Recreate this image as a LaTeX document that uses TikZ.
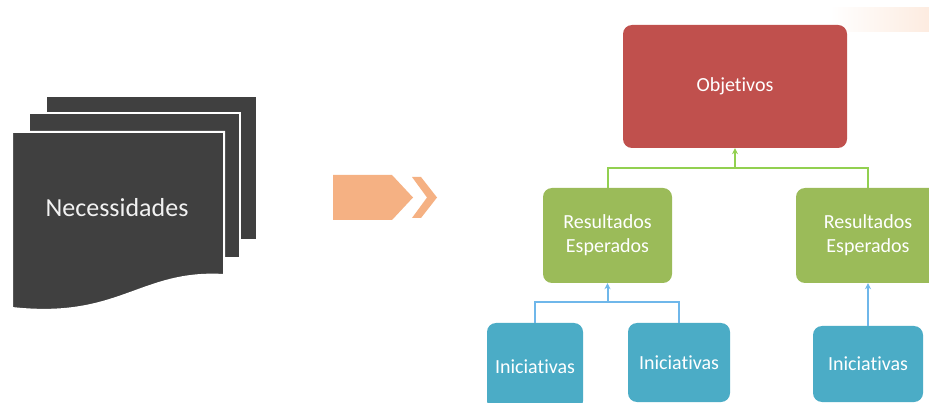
\documentclass[tikz,border=0pt]{standalone}
\usepackage{fontspec}
\setmainfont{Carlito}[Ligatures={NoCommon,NoRare,NoDiscretionary}]
\usetikzlibrary{arrows.meta,shadings}
\definecolor{sheet}{HTML}{404040}
\definecolor{objred}{HTML}{C0504D}
\definecolor{resgreen}{HTML}{9BBB59}
\definecolor{iniblue}{HTML}{4BACC6}
\definecolor{linegreen}{HTML}{92D050}
\definecolor{lineblue}{HTML}{6FB7EA}
\definecolor{arroworange}{HTML}{F5B183}
\tikzset{
  box/.style={rounded corners=9pt, inner sep=0pt, text=white, align=center,
    font=\fontsize{20}{24}\selectfont},
  objbox/.style={box, fill=objred},
  resbox/.style={box, fill=resgreen},
  inibox/.style={box, fill=iniblue},
  gline/.style={draw=linegreen, line width=2pt},
  bline/.style={draw=lineblue, line width=2pt},
  tip/.style={-{Stealth[length=6pt,width=6pt]}},
  sheetst/.style={fill=sheet, draw=white, line width=2pt},
}
\begin{document}
\begin{tikzpicture}[x=1pt,y=-1pt]
\path[use as bounding box, clip] (0,0) rectangle (929,403);
\fill[white] (0,0) rectangle (929,403);
% faint glow top right
\shade[left color=white, right color=arroworange!25] (830,8) rectangle (929,32);
% stacked sheets
\path[sheetst] (46,96) rectangle (257,240);
\path[sheetst] (29,113) rectangle (240,258);
\path[sheetst] (12,132) -- (224,132) -- (224,275)
  .. controls (140,270) and (120,320) .. (12,308) -- cycle;
\node[text=white!95!black, font=\fontsize{26}{30}\selectfont] (nec) at (117,208) {Necessidades};
% orange arrow
\fill[arroworange] (333,175) -- (392,175) -- (413,197.5) -- (392,220) -- (333,220) -- cycle;
\fill[arroworange] (412,177) -- (421,177) -- (437,197.5) -- (421,218) -- (412,218) -- (427,197.5) -- cycle;
% hierarchy
\node[objbox, minimum width=224pt, minimum height=123pt] (obj) at (735,86.5) {Objetivos};
\node[resbox, minimum width=129pt, minimum height=95pt] (g1) at (607.5,235.5) {Resultados\\Esperados};
\node[resbox, minimum width=144pt, minimum height=95pt] (g2) at (868,235.5) {Resultados\\Esperados};
\node[inibox, minimum width=96pt, minimum height=87pt] (b1) at (535,366.5) {Iniciativas};
\node[inibox, minimum width=102pt, minimum height=79pt] (b2) at (679,362.5) {Iniciativas};
\node[inibox, minimum width=110pt, minimum height=76pt] (b3) at (868,364) {Iniciativas};
% connectors
\coordinate (jg) at (735,168);
\draw[gline] (g1.north) |- (jg) -| (g2.north);
\draw[gline, tip] (jg) -- (obj.south);
\coordinate (jb) at (607.5,302);
\draw[bline] (b1.north) |- (jb) -| (b2.north);
\draw[bline, tip] (jb) -- (g1.south);
\draw[bline, tip] (b3.north) -- (g2.south);
\end{tikzpicture}
\end{document}
